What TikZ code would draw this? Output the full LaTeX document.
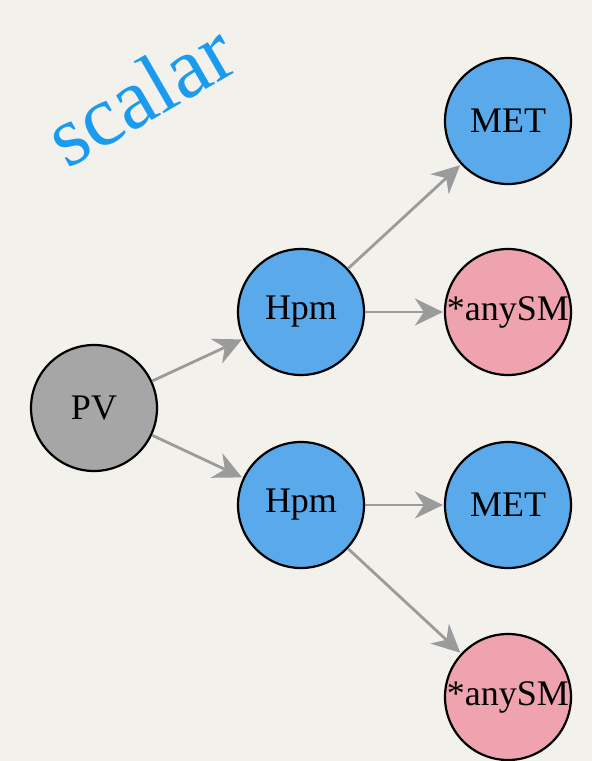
\documentclass[tikz,border=0pt]{standalone}
\usepackage{fontspec}
\setmainfont{Liberation Serif}
\usetikzlibrary{arrows.meta}
\definecolor{paper}{RGB}{243,241,236}
\definecolor{nblue}{RGB}{90,170,235}
\definecolor{npink}{RGB}{239,163,174}
\definecolor{ngray}{RGB}{166,166,166}
\definecolor{egray}{RGB}{155,155,155}
\definecolor{tblue}{RGB}{26,155,240}
\tikzset{
  circ/.style={circle, draw=black, line width=2.2pt, minimum size=126pt, inner sep=0pt, font=\fontsize{36}{38}\selectfont, text=black},
  bluec/.style={circ, fill=nblue},
  pinkc/.style={circ, fill=npink},
  grayc/.style={circ, fill=ngray},
  edge/.style={draw=egray, line width=2.8pt, -{Stealth[length=28pt, width=27pt, inset=9pt]}, shorten >=1pt}
}
\begin{document}
\begin{tikzpicture}[x=1pt, y=-1pt]
\fill[paper] (0,0) rectangle (592,761);
\useasboundingbox (0,0) rectangle (592,761);
\node[rotate=30, text=tblue, font=\fontsize{86}{90}\selectfont] (title) at (140,94) {scalar};
\node[grayc] (pv) at (94,408) {PV};
\node[bluec] (h1) at (301,312) {Hpm};
\node[bluec] (h2) at (301,505) {Hpm};
\node[bluec] (m1) at (508,121) {MET};
\node[pinkc] (a1) at (508,312) {*anySM};
\node[bluec] (m2) at (508,505) {MET};
\node[pinkc] (a2) at (508,697) {*anySM};
\draw[edge] (pv) -- (h1);
\draw[edge] (pv) -- (h2);
\draw[edge] (h1) -- (m1);
\draw[edge] (h1) -- (a1);
\draw[edge] (h2) -- (m2);
\draw[edge] (h2) -- (a2);
\end{tikzpicture}
\end{document}
